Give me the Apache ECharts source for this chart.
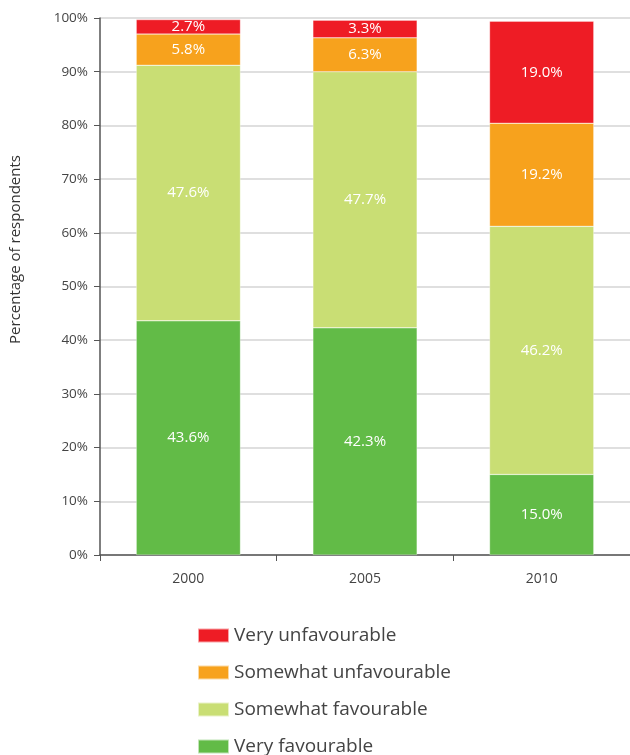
<!DOCTYPE html>
<html>
<head>
<meta charset="utf-8">
<script src="https://cdn.jsdelivr.net/npm/echarts@6/dist/echarts.min.js"></script>
<style>
  html, body { margin: 0; padding: 0; background: #fff; }
  #chart { width: 630px; height: 755px; }
</style>
</head>
<body>
<div id="chart"></div>
<script>
// data
var years = ['2000', '2005', '2010'];
var veryFav = [43.6, 42.3, 15.0];
var someFav = [47.6, 47.7, 46.2];
var someUnfav = [5.8, 6.3, 19.2];
var veryUnfav = [2.7, 3.3, 19.0];

var font = '"Open Sans", Lato, sans-serif';

function seg(name, data, color) {
  return {
    name: name,
    type: 'bar',
    stack: 'total',
    barWidth: '59%',
    data: data,
    itemStyle: { color: color, borderColor: 'rgba(255,255,255,0.6)', borderWidth: 0.5 },
    label: {
      show: true,
      position: 'inside',
      color: '#fff',
      fontFamily: font,
      fontSize: 15,
      formatter: function (p) { return p.value.toFixed(1) + '%'; }
    }
  };
}

var chart = echarts.init(document.getElementById('chart'));
var option = {
  animation: false,
  grid: { left: 100, right: 0, top: 18, bottom: 200, containLabel: false, outerBoundsMode: 'none' },
  legend: {
    orient: 'vertical',
    left: 197,
    top: 625,
    height: 200,
    padding: 0,
    itemWidth: 31,
    itemHeight: 14,
    itemGap: 16,
    icon: 'rect',
    textStyle: { fontFamily: font, fontSize: 19, color: '#444', lineHeight: 21 },
    data: ['Very unfavourable', 'Somewhat unfavourable', 'Somewhat favourable', 'Very favourable']
  },
  xAxis: {
    type: 'category',
    data: years,
    axisLine: { lineStyle: { color: '#555', width: 1.5 } },
    axisTick: { show: true, length: 6, lineStyle: { color: '#555' } },
    axisLabel: { color: '#444', fontFamily: font, fontSize: 14, margin: 17 }
  },
  yAxis: {
    type: 'value',
    min: 0,
    max: 100,
    interval: 10,
    name: 'Percentage of respondents',
    nameLocation: 'middle',
    nameGap: 77,
    nameTextStyle: { color: '#333', fontFamily: font, fontSize: 15, padding: [0, 0, 0, 74] },
    axisLine: { show: true, lineStyle: { color: '#555', width: 1.5 } },
    axisTick: { show: true, length: 6, lineStyle: { color: '#555' } },
    axisLabel: { color: '#444', fontFamily: font, fontSize: 13.5, margin: 12,
      formatter: function (v) { return v + '%'; } },
    splitLine: { lineStyle: { color: '#d4d4d4', width: 1.5 } }
  },
  series: [
    seg('Very favourable', veryFav, '#62bb47'),
    seg('Somewhat favourable', someFav, '#c9de74'),
    seg('Somewhat unfavourable', someUnfav, '#f7a21d'),
    seg('Very unfavourable', veryUnfav, '#ee1c25')
  ]
};
chart.setOption(option);
</script>
</body>
</html>
